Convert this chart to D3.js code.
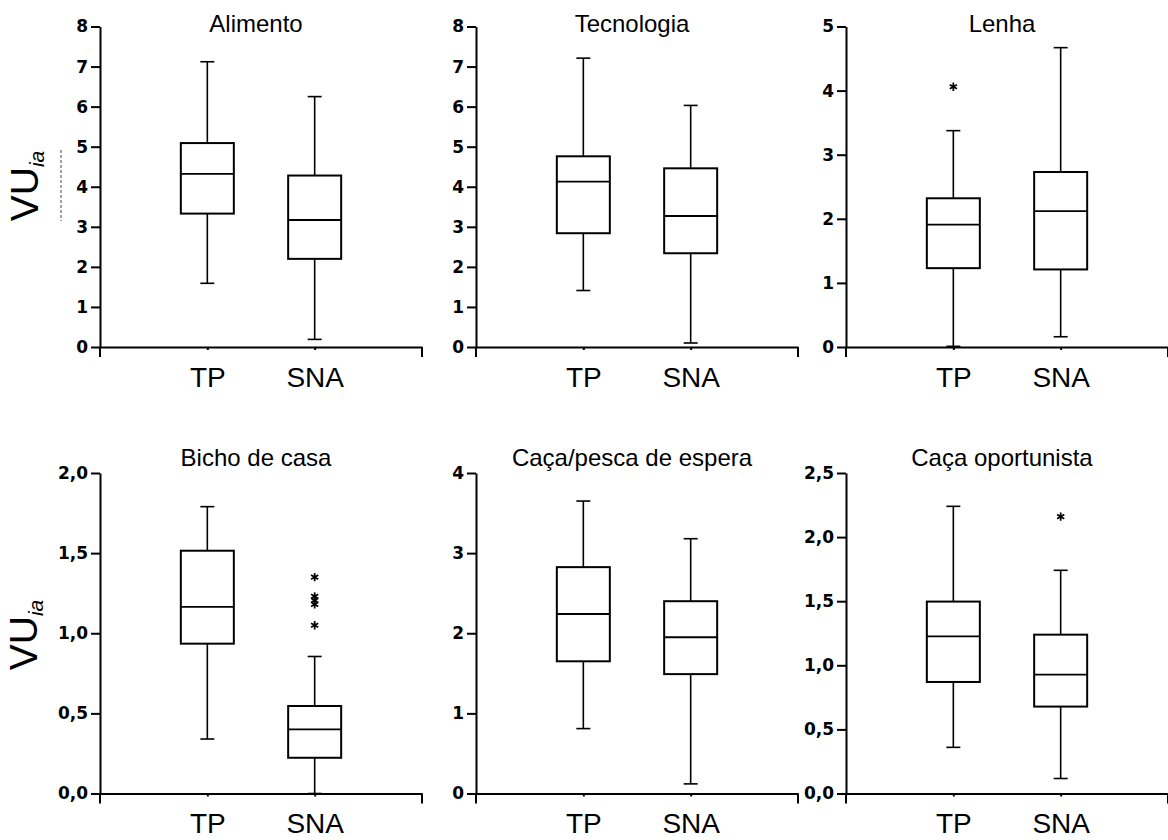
<!DOCTYPE html>
<html>
<head>
<meta charset="utf-8">
<script src="https://cdn.jsdelivr.net/npm/d3@7"></script>
<style>
  html, body { margin: 0; padding: 0; background: #fff; }
  svg { display: block; }
</style>
</head>
<body>
<svg id="chart" width="1168" height="840"></svg>
<script>
// ---------------- data ----------------
const categories = ["TP", "SNA"];
const panelTitles = ["Alimento", "Tecnologia", "Lenha", "Bicho de casa", "Caça/pesca de espera", "Caça oportunista"];
const yMaxValues = [8, 8, 5, 2, 4, 2.5];
const yTickValues = [
  [0, 1, 2, 3, 4, 5, 6, 7, 8],
  [0, 1, 2, 3, 4, 5, 6, 7, 8],
  [0, 1, 2, 3, 4, 5],
  [0, 0.5, 1, 1.5, 2],
  [0, 1, 2, 3, 4],
  [0, 0.5, 1, 1.5, 2, 2.5]
];
const yTickDecimals = [0, 0, 0, 1, 0, 1];
const yAxisLabel = "VU";
const yAxisLabelSub = "ia";

// TP series (min, Q1, median, Q3, max per panel)
const tpMin = [1.59, 1.41, 0.01, 0.34, 0.81, 0.36];
const tpQ1  = [3.33, 2.84, 1.23, 0.935, 1.65, 0.87];
const tpMed = [4.32, 4.13, 1.91, 1.165, 2.24, 1.225];
const tpQ3  = [5.09, 4.76, 2.32, 1.515, 2.825, 1.497];
const tpMax = [7.12, 7.21, 3.375, 1.79, 3.65, 2.24];
const tpOutliers = [[], [], [4.06], [], [], []];

// SNA series
const snaMin = [0.19, 0.10, 0.16, 0.0, 0.12, 0.117];
const snaQ1  = [2.20, 2.34, 1.21, 0.223, 1.49, 0.678];
const snaMed = [3.17, 3.27, 2.12, 0.40, 1.95, 0.927];
const snaQ3  = [4.28, 4.46, 2.73, 0.546, 2.40, 1.239];
const snaMax = [6.25, 6.03, 4.67, 0.855, 3.18, 1.741];
const snaOutliers = [[], [], [], [1.35, 1.23, 1.205, 1.18, 1.05], [], [2.16]];

// ---------------- layout ----------------
const svg = d3.select("#chart");
const colX = [100, 476, 846];
const rowBottom = [347, 793.5];
const rowTop = [26.5, 473];
const axisLen = 322;
const boxW = 53, capW = 14;

const locale = d3.formatLocale({decimal: ",", thousands: ".", grouping: [3], currency: ["", ""]});

const stats = [
  {cat: "TP", min: tpMin, q1: tpQ1, med: tpMed, q3: tpQ3, max: tpMax, out: tpOutliers},
  {cat: "SNA", min: snaMin, q1: snaQ1, med: snaMed, q3: snaQ3, max: snaMax, out: snaOutliers}
];

panelTitles.forEach((title, i) => {
  const col = i % 3, row = Math.floor(i / 3);
  const ax = colX[col], y0 = rowBottom[row], yT = rowTop[row];
  const g = svg.append("g");

  const y = d3.scaleLinear().domain([0, yMaxValues[i]]).range([y0, yT]);
  const x = d3.scalePoint().domain(categories).range([ax, ax + axisLen]).padding(1);
  const fmt = locale.format("." + yTickDecimals[i] + "f");

  // y axis
  const ya = g.append("g").attr("transform", `translate(${ax},0)`)
    .call(d3.axisLeft(y).tickValues(yTickValues[i]).tickSize(9).tickSizeOuter(0).tickPadding(3).tickFormat(fmt));
  ya.selectAll("path, line").attr("stroke", "#000").attr("stroke-width", 2);
  ya.attr("font-size", null).attr("font-family", null);
  ya.selectAll("text").style("font-family", "'DejaVu Sans', sans-serif").style("font-weight", "bold")
    .style("font-size", "17px").attr("fill", "#000");
  g.append("line").attr("x1", ax).attr("x2", ax).attr("y1", y0).attr("y2", y0 + 10)
    .attr("stroke", "#000").attr("stroke-width", 2);

  // x axis
  const xa = g.append("g").attr("transform", `translate(0,${y0})`)
    .call(d3.axisBottom(x).tickSize(3).tickSizeOuter(0).tickPadding(17));
  xa.attr("font-size", null).attr("font-family", null);
  xa.selectAll("path, line").attr("stroke", "#000").attr("stroke-width", 2);
  xa.selectAll("text").style("font-family", "'Liberation Sans', Arial, sans-serif")
    .style("font-size", "28px").attr("fill", "#000");
  g.append("line").attr("x1", ax + axisLen).attr("x2", ax + axisLen).attr("y1", y0).attr("y2", y0 + 10)
    .attr("stroke", "#000").attr("stroke-width", 2);

  // title
  g.append("text").attr("x", ax + 156).attr("y", row === 0 ? 32 : 466)
    .attr("text-anchor", "middle").attr("font-family", "'Liberation Sans', Arial, sans-serif")
    .attr("font-size", 24).attr("fill", "#000").text(title);

  // boxes
  stats.forEach(s => {
    const cx = x(s.cat);
    const gb = g.append("g");
    // whiskers
    gb.append("line").attr("x1", cx).attr("x2", cx).attr("y1", y(s.q3[i])).attr("y2", y(s.max[i]))
      .attr("stroke", "#000").attr("stroke-width", 1.6);
    gb.append("line").attr("x1", cx).attr("x2", cx).attr("y1", y(s.q1[i])).attr("y2", y(s.min[i]))
      .attr("stroke", "#000").attr("stroke-width", 1.6);
    [s.max[i], s.min[i]].forEach(v => {
      gb.append("line").attr("x1", cx - capW / 2).attr("x2", cx + capW / 2).attr("y1", y(v)).attr("y2", y(v))
        .attr("stroke", "#000").attr("stroke-width", 1.6);
    });
    // box
    gb.append("rect").attr("x", cx - boxW / 2).attr("width", boxW)
      .attr("y", y(s.q3[i])).attr("height", y(s.q1[i]) - y(s.q3[i]))
      .attr("fill", "#fff").attr("stroke", "#000").attr("stroke-width", 2);
    gb.append("line").attr("x1", cx - boxW / 2).attr("x2", cx + boxW / 2)
      .attr("y1", y(s.med[i])).attr("y2", y(s.med[i]))
      .attr("stroke", "#000").attr("stroke-width", 1.8);
    // outliers
    gb.selectAll("path.out").data(s.out[i]).join("path").attr("class", "out")
      .attr("transform", v => `translate(${cx},${y(v)})`)
      .attr("d", d3.symbol(d3.symbolAsterisk, 48)())
      .attr("fill", "none").attr("stroke", "#000").attr("stroke-width", 1.7);
  });
});

// y axis labels (VU_ia), one per row
[[38, 186], [37, 635]].forEach(([lx, ly]) => {
  const t = svg.append("text").attr("transform", `translate(${lx},${ly}) rotate(-90)`)
    .attr("text-anchor", "middle").attr("font-family", "'Liberation Sans', Arial, sans-serif")
    .attr("fill", "#000");
  t.append("tspan").attr("font-size", 39).text(yAxisLabel);
  t.append("tspan").attr("font-size", 21).attr("font-style", "italic").attr("dy", 6).text(yAxisLabelSub);
});

// faint dashed artifact beside top label
svg.append("line").attr("x1", 61).attr("x2", 61).attr("y1", 150).attr("y2", 221)
  .attr("stroke", "#444").attr("stroke-width", 1).attr("stroke-dasharray", "3,2");
</script>
</body>
</html>
